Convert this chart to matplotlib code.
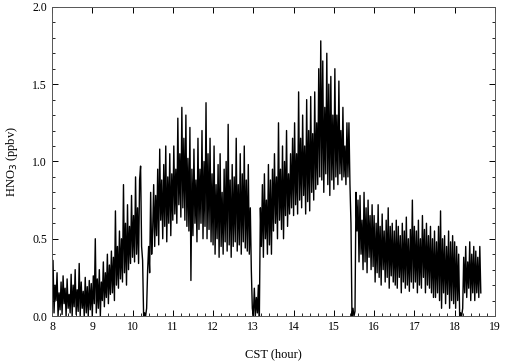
import numpy as np
import matplotlib
matplotlib.use('Agg')
import matplotlib.pyplot as plt
from matplotlib.ticker import MultipleLocator

# HNO3 mixing ratio (ppbv), every 0.025 h starting at 8.0 CST
t_start = 8.0
t_step = 0.025
hno3 = [
    # 8.0 - 8.5
    0.05, 0.36, 0.02, 0.20, 0.10, 0.28, 0.00, 0.15, 0.04, 0.22, 0.01, 0.26, 0.08, 0.18, 0.00, 0.24, 0.05, 0.14, 0.02, 0.27,
    # 8.5 - 9.0
    0.00, 0.20, 0.06, 0.30, 0.01, 0.17, 0.03, 0.34, 0.00, 0.22, 0.05, 0.16, 0.00, 0.25, 0.02, 0.19, 0.00, 0.23, 0.04, 0.21,
    # 9.0 - 9.5
    0.00, 0.26, 0.08, 0.50, 0.02, 0.24, 0.05, 0.30, 0.00, 0.22, 0.10, 0.35, 0.06, 0.28, 0.12, 0.40, 0.08, 0.33, 0.14, 0.42,
    # 9.5 - 10.0
    0.15, 0.38, 0.10, 0.68, 0.20, 0.45, 0.18, 0.55, 0.24, 0.50, 0.22, 0.85, 0.28, 0.60, 0.20, 0.72, 0.30, 0.58, 0.34, 0.78,
    # 10.0 - 10.5
    0.38, 0.65, 0.35, 0.90, 0.40, 0.70, 0.34, 0.88, 0.97, 0.45, 0.36, 0.00, 0.02, 0.00, 0.05, 0.30, 0.45, 0.28, 0.80, 0.40,
    # 10.5 - 11.0
    0.55, 0.85, 0.45, 0.78, 0.52, 0.95, 0.46, 1.08, 0.62, 0.88, 0.50, 0.98, 0.58, 1.10, 0.48, 0.90, 0.60, 1.05, 0.52, 0.92,
    # 11.0 - 11.5
    0.62, 1.10, 0.66, 0.95, 0.60, 1.28, 0.72, 1.05, 0.64, 1.35, 0.70, 1.15, 0.62, 1.30, 0.58, 1.02, 0.55, 1.22, 0.23, 0.95,
    # 11.5 - 12.0
    0.52, 1.08, 0.60, 0.88, 0.48, 1.15, 0.56, 0.95, 0.60, 1.20, 0.50, 1.00, 0.58, 1.38, 0.50, 1.05, 0.56, 1.15, 0.48, 0.92,
    # 12.0 - 12.5
    0.46, 1.10, 0.40, 0.85, 0.50, 0.98, 0.38, 1.05, 0.45, 0.80, 0.40, 0.95, 0.48, 1.00, 0.42, 1.24, 0.46, 0.88, 0.38, 0.98,
    # 12.5 - 13.0
    0.45, 0.90, 0.48, 1.15, 0.42, 0.85, 0.46, 1.05, 0.40, 0.92, 0.48, 1.10, 0.44, 0.88, 0.42, 0.98, 0.40, 0.70, 0.30, 0.05,
    # 13.0 - 13.5
    0.00, 0.18, 0.00, 0.12, 0.02, 0.20, 0.00, 0.70, 0.45, 0.85, 0.38, 0.92, 0.50, 0.75, 0.40, 0.98, 0.46, 0.88, 0.40, 0.95,
    # 13.5 - 14.0
    0.55, 1.05, 0.60, 0.90, 0.50, 1.25, 0.62, 0.95, 0.56, 1.10, 0.50, 1.00, 0.65, 1.20, 0.58, 0.92, 0.66, 1.05, 0.70, 1.15,
    # 14.0 - 14.5
    0.65, 1.25, 0.72, 1.05, 0.66, 1.45, 0.75, 1.15, 0.70, 1.30, 0.78, 1.10, 0.66, 1.40, 0.74, 1.20, 0.68, 1.42, 0.80, 1.18,
    # 14.5 - 15.0
    0.75, 1.45, 0.82, 1.25, 0.85, 1.60, 0.90, 1.78, 0.88, 1.65, 0.80, 1.35, 0.92, 1.70, 0.85, 1.50, 0.78, 1.55, 0.88, 1.30,
    # 15.0 - 15.5
    0.82, 1.60, 0.90, 1.30, 0.85, 1.52, 0.92, 1.20, 0.88, 1.35, 0.90, 1.10, 0.85, 1.25, 0.90, 1.25, 0.85, 0.60, 0.00, 0.05,
    # 15.5 - 16.0
    0.00, 0.03, 0.80, 0.55, 0.75, 0.35, 0.78, 0.40, 0.62, 0.30, 0.80, 0.35, 0.70, 0.28, 0.75, 0.38, 0.65, 0.30, 0.72, 0.32,
    # 16.0 - 16.5
    0.65, 0.22, 0.60, 0.28, 0.72, 0.25, 0.58, 0.20, 0.66, 0.30, 0.55, 0.22, 0.62, 0.25, 0.70, 0.18, 0.58, 0.26, 0.60, 0.22,
    # 16.5 - 17.0
    0.55, 0.20, 0.62, 0.18, 0.58, 0.25, 0.52, 0.15, 0.60, 0.22, 0.55, 0.18, 0.64, 0.20, 0.50, 0.16, 0.56, 0.22, 0.75, 0.18,
    # 17.0 - 17.5
    0.58, 0.22, 0.55, 0.15, 0.62, 0.20, 0.50, 0.18, 0.65, 0.25, 0.56, 0.15, 0.60, 0.20, 0.52, 0.18, 0.58, 0.15, 0.50, 0.12,
    # 17.5 - 18.0
    0.55, 0.12, 0.48, 0.15, 0.58, 0.10, 0.68, 0.05, 0.50, 0.15, 0.52, 0.08, 0.45, 0.14, 0.55, 0.05, 0.48, 0.10, 0.52, 0.08,
    # 18.0 - 18.5
    0.48, 0.05, 0.45, 0.10, 0.40, 0.00, 0.02, 0.00, 0.05, 0.38, 0.15, 0.45, 0.12, 0.35, 0.18, 0.48, 0.10, 0.40, 0.15, 0.45,
    # 18.5 - 18.65
    0.10, 0.42, 0.15, 0.38, 0.12, 0.45, 0.15,
]

x_ticks = [8, 9, 10, 11, 12, 13, 14, 15, 16, 17, 18, 19]
y_ticks = [0.0, 0.5, 1.0, 1.5, 2.0]

plt.rcParams['font.family'] = ['Liberation Serif', 'DejaVu Serif']

t = t_start + t_step * np.arange(len(hno3))

fig = plt.figure(figsize=(5.05, 3.62), dpi=100)
ax = fig.add_axes([0.103, 0.127, 0.877, 0.854])
ax.plot(t, hno3, color='black', lw=1.0)

ax.set_xlim(8, 19)
ax.set_ylim(0, 2.0)
ax.set_xticks(x_ticks)
ax.set_yticks(y_ticks)
ax.set_yticklabels(['%.1f' % v for v in y_ticks])
ax.xaxis.set_minor_locator(MultipleLocator(0.2))
ax.yaxis.set_minor_locator(MultipleLocator(0.1))
ax.tick_params(which='both', direction='in', top=True, right=True, labelsize=8.5, colors='black')
ax.tick_params(which='major', length=4, width=0.7)
ax.tick_params(which='minor', length=2, width=0.6, top=False)
for s in ax.spines.values():
    s.set_linewidth(0.7)
    s.set_color('#555555')

ax.set_xlabel('CST (hour)', fontsize=9, labelpad=11)
ax.set_ylabel('HNO$_3$ (ppbv)', fontsize=9, labelpad=9)

fig.savefig('out.png', dpi=100)
